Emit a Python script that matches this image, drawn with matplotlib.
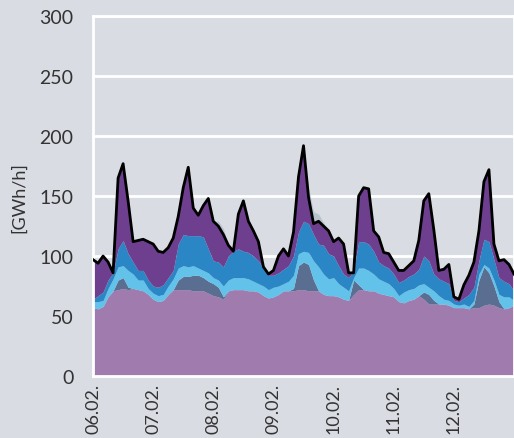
import numpy as np
import matplotlib
matplotlib.use("Agg")
import matplotlib.pyplot as plt

# hours since 06.02. 00:00, every 2 hours
hours = list(range(0, 169, 2))

# upper edges of the stacked layers [GWh/h]
base_top = [57, 56, 58, 66, 71, 72, 73, 72, 73, 72, 71, 68,
            64, 62, 63, 68, 72, 72, 72, 72, 71, 71, 71, 69,
            67, 66, 64, 71, 72, 72, 72, 71, 71, 70, 67, 65,
            66, 68, 71, 71, 71, 72, 72, 71, 71, 71, 68, 67,
            67, 66, 64, 63, 68, 72, 72, 71, 71, 69, 68, 67,
            66, 62, 61, 63, 64, 67, 64, 60, 60, 60, 60, 59,
            57, 57, 57, 56, 57, 57, 59, 60, 59, 57, 56, 57, 59]
slate_top = [57, 56, 58, 66, 71, 80, 82, 74, 73, 72, 71, 68,
             64, 62, 63, 68, 72, 80, 83, 83, 84, 84, 82, 79,
             77, 74, 66, 71, 72, 72, 72, 71, 71, 70, 67, 65,
             66, 68, 71, 71, 73, 92, 95, 93, 80, 71, 68, 67,
             67, 66, 64, 63, 80, 76, 72, 71, 71, 69, 68, 67,
             66, 62, 61, 63, 64, 67, 70, 68, 63, 60, 60, 59,
             57, 57, 57, 56, 60, 80, 91, 86, 75, 62, 56, 57, 59]
light_top = [62, 62, 63, 73, 81, 91, 92, 88, 85, 80, 80, 73,
             69, 67, 68, 75, 81, 90, 92, 91, 92, 90, 88, 86,
             82, 80, 75, 80, 82, 82, 82, 81, 79, 77, 75, 72,
             74, 75, 77, 79, 84, 102, 104, 103, 96, 91, 85, 81,
             82, 77, 74, 71, 82, 90, 90, 88, 85, 81, 79, 77,
             73, 67, 70, 72, 73, 76, 77, 74, 71, 67, 64, 63,
             60, 59, 60, 58, 63, 85, 93, 90, 80, 68, 66, 66, 63]
mid_top = [64, 67, 70, 80, 86, 106, 113, 102, 95, 88, 88, 80,
           75, 74, 76, 82, 88, 110, 118, 117, 117, 117, 116, 106,
           96, 95, 91, 100, 104, 106, 104, 103, 100, 96, 90, 84,
           84, 86, 89, 92, 100, 120, 129, 127, 118, 110, 109, 102,
           100, 92, 85, 82, 88, 112, 112, 110, 104, 95, 92, 90,
           85, 78, 80, 83, 85, 89, 100, 96, 85, 81, 79, 77,
           63, 62, 65, 68, 74, 96, 114, 112, 97, 82, 79, 77, 71]
total = [97, 94, 100, 95, 86, 165, 177, 146, 112, 113, 114, 112,
         110, 104, 103, 107, 115, 133, 157, 174, 140, 134, 142, 148,
         129, 125, 118, 109, 104, 135, 146, 129, 121, 112, 91, 85,
         88, 100, 106, 100, 120, 166, 192, 149, 127, 129, 125, 121,
         112, 115, 110, 86, 86, 150, 157, 156, 121, 116, 103, 102,
         95, 88, 88, 92, 96, 113, 146, 152, 122, 88, 89, 93,
         66, 64, 76, 84, 95, 121, 162, 172, 110, 96, 97, 93, 85]
# small extra layer that sometimes shows above the line
extra = [0] * 85
extra[25] = 4
extra[26] = 5
extra[43] = 8
extra[44] = 10
extra[45] = 6
extra[46] = 3

day_labels = ["06.02.", "07.02.", "08.02.", "09.02.", "10.02.", "11.02.", "12.02."]

bg = "#d9dce3"
plt.rcParams["font.family"] = ["Lato", "DejaVu Sans"]

fig = plt.figure(figsize=(5.14, 4.39), dpi=100, facecolor=bg)
ax = fig.add_axes([0.181, 0.1412, 0.819, 0.8198])
ax.set_facecolor(bg)

x = np.array(hours)
tot = np.array(total)
ax.fill_between(x, tot, tot + np.array(extra), color="#b8c3d0", lw=0, zorder=2)
ax.fill_between(x, 0, base_top, color="#a07cae", lw=0, zorder=2)
ax.fill_between(x, base_top, slate_top, color="#5a6e92", lw=0, zorder=2)
ax.fill_between(x, slate_top, light_top, color="#62c2ea", lw=0, zorder=2)
ax.fill_between(x, light_top, mid_top, color="#2b86c6", lw=0, zorder=2)
ax.fill_between(x, mid_top, tot, color="#6e3f8e", lw=0, zorder=2)
ax.plot(x, tot, color="black", lw=2, zorder=3)

ax.set_xlim(0, 168)
ax.set_ylim(0, 300)
ax.set_yticks(range(0, 301, 50))
ax.set_xticks(range(0, 145, 24))
ax.set_xticklabels(day_labels, rotation=90)
ax.tick_params(length=0, colors="#333333")
ax.tick_params(axis="y", labelsize=14, pad=14)
ax.tick_params(axis="x", labelsize=13, pad=5)
ax.grid(axis="y", color="white", lw=2, zorder=1)
for s in ax.spines.values():
    s.set_color("white")
    s.set_linewidth(2)
ax.set_ylabel("[GWh/h]", fontsize=13, color="#333333", labelpad=9)

fig.savefig("out.png", dpi=100, facecolor=bg)
